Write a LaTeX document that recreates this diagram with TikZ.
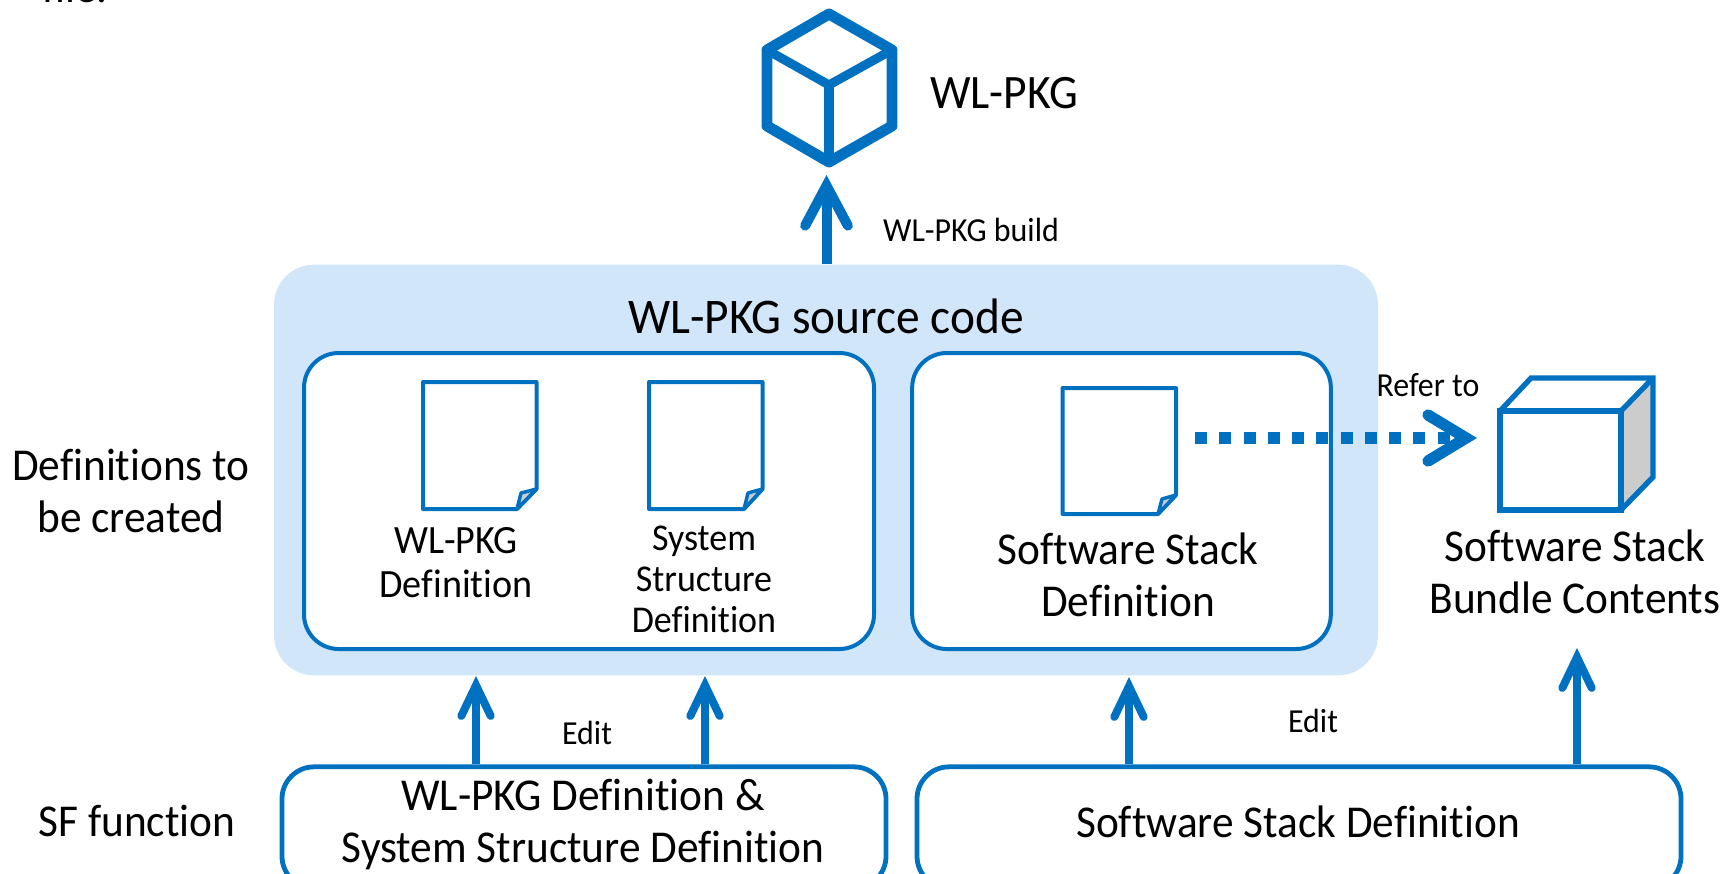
\documentclass[tikz,border=0pt]{standalone}
\usepackage{fontspec}
\setmainfont[FakeStretch=0.95,Ligatures=NoCommon]{Carlito}
\usetikzlibrary{arrows.meta}
\definecolor{fjblue}{RGB}{0,112,192}
\definecolor{fjlight}{RGB}{210,230,250}
\definecolor{fjgray}{RGB}{204,204,204}
\newcommand{\fsXL}{\fontsize{34.2}{39}\selectfont}
\newcommand{\fsHead}{\fontsize{37.4}{39}\selectfont}
\newcommand{\fsTop}{\fontsize{36}{39}\selectfont}
\newcommand{\fsL}{\fontsize{30.1}{33}\selectfont}
\newcommand{\fsM}{\fontsize{28.4}{30.75}\selectfont}
\newcommand{\fsS}{\fontsize{25.2}{27}\selectfont}
\tikzset{
  x=0.75pt,y=-0.75pt,
  txt/.style={inner sep=0pt,align=center,text=black,font=\fsXL},
  panel/.style={draw=fjblue,line width=3pt,fill=white,rounded corners=26pt,inner sep=0pt},
  funcbox/.style={draw=fjblue,line width=3.6pt,fill=white,rounded corners=24pt,inner sep=0pt},
  docline/.style={draw=fjblue,line width=3pt,line join=round,fill=white},
  foldline/.style={draw=fjblue,line width=2.6pt,line join=round,fill=fjgray},
  bigarrow/.style={draw=fjblue,line width=7.5pt,-{Straight Barb[length=30pt,width=32pt,line width=7.5pt,line cap=round,line join=miter]}},
  smallarrow/.style={draw=fjblue,line width=6pt,-{Straight Barb[length=23pt,width=22pt,line width=6pt,line cap=round,line join=miter]}},
  dotarrow/.style={draw=fjblue,line width=9.5pt,dash pattern=on 9pt off 9.2pt},
}
\begin{document}
\begin{tikzpicture}
\useasboundingbox (0,0) rectangle (1734,874);
\clip (0,0) rectangle (1734,874);
% backdrop panel
\node[fill=fjlight,rounded corners=30pt,inner sep=0pt,minimum width=828pt,minimum height=308pt] (src) at (826,470) {};
\node[panel,minimum width=427.5pt,minimum height=222pt] (left) at (589,501) {};
\node[panel,minimum width=314pt,minimum height=222pt] (right) at (1121.5,501) {};
\node[funcbox,minimum width=453pt,minimum height=91pt] (fa) at (584,827.5) {};
\node[funcbox,minimum width=573pt,minimum height=91pt] (fb) at (1299,827.5) {};
% cube WL-PKG
\coordinate (cubetop) at (829,14);
\coordinate (cubebot) at (829,162);
\coordinate (cubemid) at (829,85);
\draw[fjblue,line width=8.2pt,line join=round]
  (cubetop) -- (892,50) -- (892,126) -- (cubebot) -- (767,126) -- (767,50) -- cycle;
\draw[fjblue,line width=6.8pt,line join=miter] (767,50) -- (cubemid) -- (892,50);
\draw[fjblue,line width=6.8pt] (cubemid) -- (cubebot);
% documents
\draw[docline] (423,382) -- (536.5,382) -- (536.5,489) -- (517,509) -- (423,509) -- cycle;
\draw[foldline] (536.5,489) -- (521,493) -- (517,509) -- cycle;
\draw[docline] (649,382) -- (762.5,382) -- (762.5,489) -- (744,509) -- (649,509) -- cycle;
\draw[foldline] (762.5,489) -- (748,493) -- (744,509) -- cycle;
\draw[docline] (1062.5,388) -- (1176,388) -- (1176,495) -- (1158,514) -- (1062.5,514) -- cycle;
\draw[foldline] (1176,495) -- (1162,499) -- (1158,514) -- cycle;
% box
\draw[fjgray,fill=fjgray] (1621,411) -- (1653,378) -- (1653,477) -- (1621,510) -- cycle;
\draw[fjblue,line width=4pt,line join=miter] (1500,411) -- (1531,378) -- (1653,378) -- (1653,477) -- (1621,510);
\draw[fjblue,line width=4pt,line join=miter] (1653,378) -- (1621,411);
\node[draw=fjblue,line width=4pt,inner sep=0pt,minimum width=90.75pt,minimum height=74.25pt] (bundle) at (1560.5,460.5) {};
% connectors
\coordinate (buildtip) at (826.5,175);
\draw[bigarrow,shorten >=0pt] (src.north -| buildtip) -- (buildtip);
\coordinate (t1) at (476,676);
\coordinate (t2) at (705,676);
\coordinate (t3) at (1129,677);
\coordinate (t4) at (1577,648);
\draw[smallarrow] (fa.north -| t1) -- (t1);
\draw[smallarrow] (fa.north -| t2) -- (t2);
\draw[smallarrow] (fb.north -| t3) -- (t3);
\draw[smallarrow] (fb.north -| t4) -- (t4);
\coordinate (dotstart) at (1195,438);
\coordinate (dotlast) at (1452,438);
\coordinate (dotup) at (1428,415);
\coordinate (dottip) at (1466,438);
\coordinate (dotdown) at (1428,461);
\draw[dotarrow] (dotstart) -- (dotlast);
\draw[draw=fjblue,line width=8.5pt,line cap=round,line join=miter] (dotup) -- (dottip) -- (dotdown);
% texts
\node[txt,anchor=base] (filefrag) at (75,3) {file.};
\node[txt,font=\fsTop] (lblpkg) at (1004,93) {WL-PKG};
\node[txt,font=\fsS] (lblbuild) at (971,230) {WL-PKG build};
\node[txt,font=\fsHead] (lblsrc) at (826,316) {WL-PKG source code};
\node[txt,font=\fsL] (lbldef) at (456,563) {WL-PKG\\Definition};
\node[txt,font=\fsM] (lblsys) at (704,579) {System\\Structure\\Definition};
\node[txt] (lblssd) at (1128,575) {Software Stack\\Definition};
\node[txt] (lblbundle) at (1575,572) {Software Stack\\Bundle Contents};
\node[txt] (lblcreate) at (131,491) {Definitions to\\be created};
\node[txt] (lblsf) at (137,821) {SF function};
\node[txt,font=\fsS] (lbledit1) at (587,733) {Edit};
\node[txt,font=\fsS] (lbledit2) at (1313,721) {Edit};
\node[txt,font=\fsS] (lblrefer) at (1428,385) {Refer to};
\node[txt] (lblfa) at (583,824) {WL-PKG Definition \&\\System Structure Definition};
\node[txt] (lblfb) at (1298,822) {Software Stack Definition};
\end{tikzpicture}
\end{document}
